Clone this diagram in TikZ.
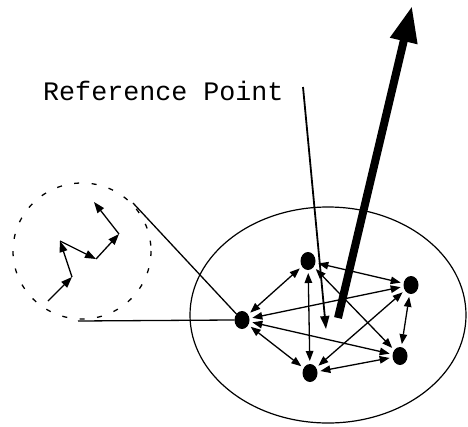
\documentclass[tikz,border=0pt]{standalone}
\usepackage{fontspec}
\setmonofont{Liberation Mono}
\usetikzlibrary{arrows.meta,shapes.geometric}
\tikzset{
  dot/.style={ellipse,fill=black,draw=none,minimum width=15pt,minimum height=18pt,inner sep=0pt,outer sep=3pt},
  link/.style={line width=1.3pt,{Triangle[length=10pt,width=7.5pt]}-{Triangle[length=10pt,width=7.5pt]}},
  walk/.style={line width=1.3pt,-{Triangle[length=11pt,width=8pt]}},
  plain/.style={line width=1.3pt},
}
\begin{document}
\begin{tikzpicture}[x=1pt,y=-1pt]
\useasboundingbox (0,0) rectangle (468,426);
% dashed circle
\draw[line width=1.3pt,dash pattern=on 5pt off 12.5pt] (82,251) ellipse [x radius=69,y radius=68];
% random walk
\coordinate (w0) at (48,301);
\coordinate (w1) at (72,277);
\coordinate (w2) at (60,241);
\coordinate (w3) at (96,259);
\coordinate (w4) at (119,234);
\coordinate (w5) at (94,202);
\draw[walk] (w0) -- (w1);
\draw[walk] (w1) -- (w2);
\draw[walk] (w2) -- (w3);
\draw[walk] (w3) -- (w4);
\draw[walk] (w4) -- (w5);
% big ellipse
\draw[line width=1.2pt] (328,315) ellipse [x radius=138,y radius=108];
% nodes
\node[dot] (A) at (242,320) {};
\node[dot] (B) at (308,261) {};
\node[dot] (C) at (411,285) {};
\node[dot] (D) at (400,356) {};
\node[dot] (E) at (310,373) {};
% connections from dashed circle
\coordinate (t1) at (133,203);
\coordinate (t2) at (78,321);
\draw[plain,shorten >=-3pt] (t1) -- (A);
\draw[plain,shorten >=-3pt] (t2) -- (A.west);
% complete graph
\draw[link] (A) -- (B);
\draw[link] (A) -- (C);
\draw[link] (A) -- (D);
\draw[link] (A) -- (E);
\draw[link] (B) -- (C);
\draw[link] (B) -- (D);
\draw[link] (B) -- (E);
\draw[link] (C) -- (D);
\draw[link] (C) -- (E);
\draw[link] (D) -- (E);
% reference point
\node[anchor=base west,inner sep=0pt,font=\ttfamily\fontsize{26.7}{30}\selectfont] (lab) at (43,100) {Reference Point};
\coordinate (r0) at (303,87);
\coordinate (r1) at (326,329);
\draw[line width=1.8pt,-{Triangle[length=13pt,width=9pt]}] (r0) -- (r1);
% thick arrow
\coordinate (b0) at (338,318);
\coordinate (b1) at (412,6);
\draw[line width=8pt,-{Triangle[length=36pt,width=26pt]}] (b0) -- (b1);
\end{tikzpicture}
\end{document}
